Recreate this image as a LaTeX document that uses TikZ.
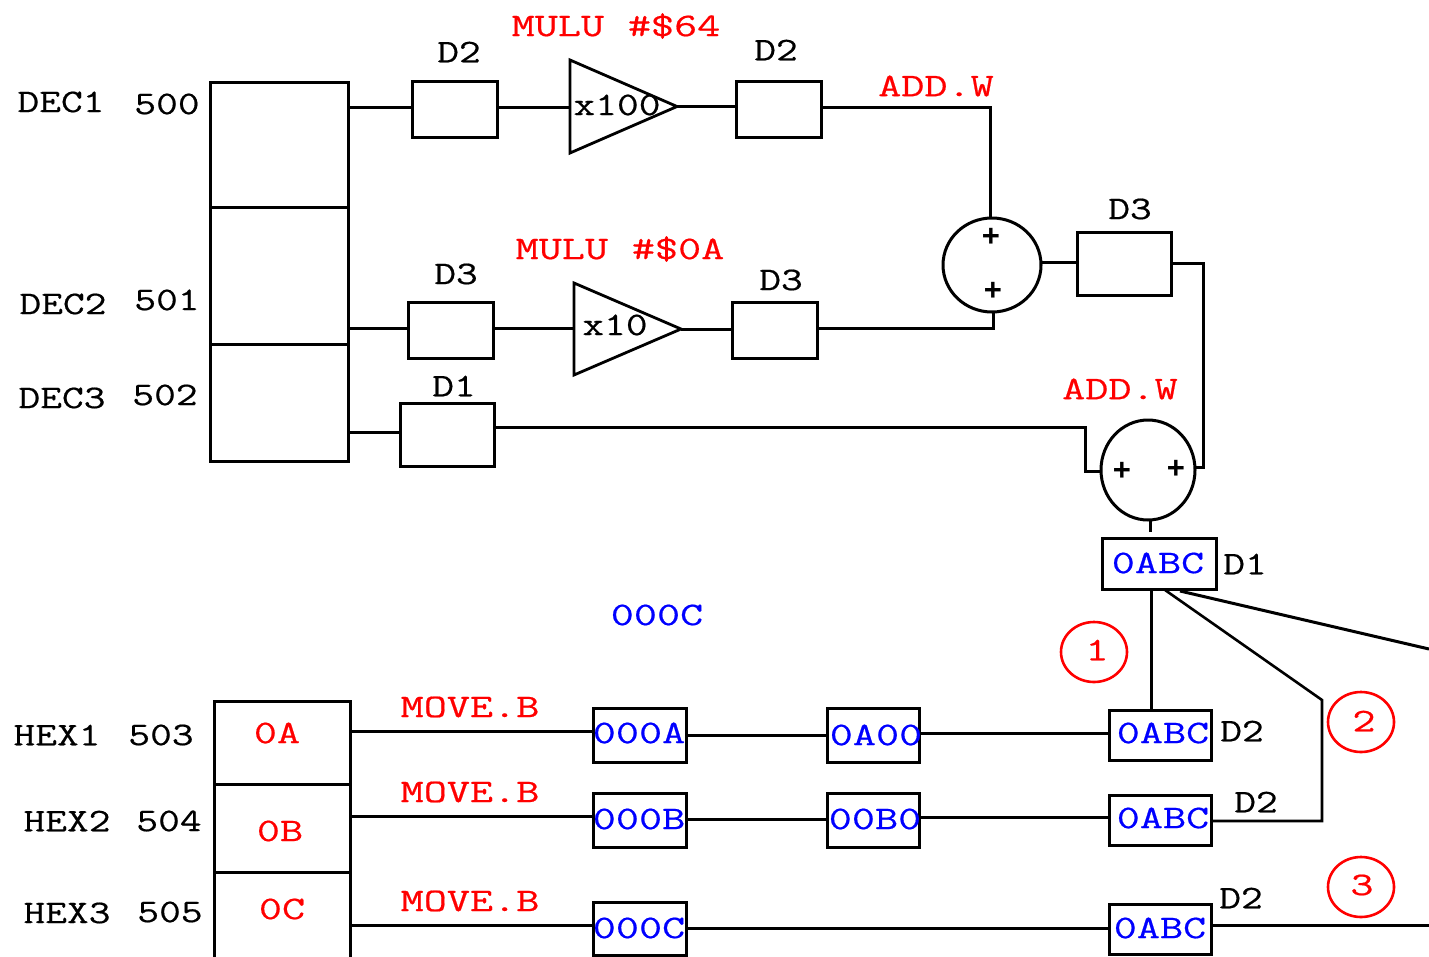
\documentclass[tikz,border=0pt]{standalone}
\usepackage{fontspec}
\usetikzlibrary{shapes.geometric}
\newfontfamily\cfont[FakeStretch=1.36,FakeBold=0.5]{Latin Modern Mono}
\newfontfamily\kfont[FakeStretch=1.28,FakeBold=0.5]{Latin Modern Mono}
\newfontfamily\pfont{Liberation Sans}
\definecolor{redt}{RGB}{255,0,0}
\definecolor{bluet}{RGB}{0,0,255}
\tikzset{
  wire/.style={line width=3pt,black,line join=miter},
  thin wire/.style={line width=2.6pt,black},
  boxn/.style={draw=black,line width=3pt,inner sep=0pt,outer sep=0pt,fill=white},
  sumn/.style={draw=black,ellipse,line width=3pt,inner sep=0pt,outer sep=0pt},
  redc/.style={draw=redt,ellipse,line width=2.6pt,inner sep=0pt,outer sep=0pt},
  amp/.style={draw=black,isosceles triangle,isosceles triangle stretches,shape border rotate=0,line width=2.8pt,inner sep=0pt,outer sep=0pt,anchor=lower side},
  lab/.style={font=\kfont\fontsize{33}{33}\selectfont,inner sep=0pt,text=black},
  redl/.style={font=\cfont\fontsize{33}{33}\selectfont,inner sep=0pt,text=redt},
  blul/.style={font=\cfont\fontsize{33}{33}\selectfont,inner sep=0pt,text=bluet},
  plusn/.style={font=\pfont\bfseries\fontsize{31}{31}\selectfont,inner sep=0pt,text=black}
}
\newcommand{\bx}[5]{\node[boxn,minimum width={#4-#2},minimum height={#5-#3}] (#1) at ({(#2+#4)/2},{(#3+#5)/2}) {};}
\begin{document}
\begin{tikzpicture}[x=1pt,y=-1pt]
\useasboundingbox (0,0) rectangle (1429,956);
\clip (0,0) rectangle (1429,956);
% top memory
\bx{mema}{210}{82}{348}{207}
\bx{memb}{210}{207}{348}{344}
\bx{memc}{210}{344}{348}{461}
% registers
\bx{rga}{412}{81}{497}{137}
\bx{rgb}{736}{81}{821}{137}
\bx{rgc}{408}{302}{493}{358}
\bx{rgd}{732}{302}{817}{358}
\bx{rge}{400}{403}{494}{466}
\bx{rgf}{1077}{232}{1171}{295}
\bx{res}{1102}{538}{1216}{589}
% amplifiers
\node[amp,minimum width=93,minimum height=107] (ampa) at (570,106.5) {};
\node[amp,minimum width=92,minimum height=107] (ampb) at (574,329) {};
% adders
\node[sumn,minimum width=98,minimum height=94] (suma) at (992,265) {};
\node[sumn,minimum width=94,minimum height=100] (sumb) at (1148,470) {};
% bottom memory
\bx{hexa}{214}{701}{350}{784}
\bx{hexb}{214}{784}{350}{872}
\bx{hexc}{214}{872}{350}{975}
% bottom registers
\bx{ra}{593}{708}{686}{762}
\bx{rb}{827}{708}{919}{762}
\bx{rc}{1109}{710}{1211}{760}
\bx{sa}{593}{793}{686}{847}
\bx{sb}{827}{793}{919}{847}
\bx{sc}{1109}{795}{1211}{845}
\bx{ta}{593}{902}{686}{955}
\bx{tc}{1109}{904}{1211}{954}
% pins
\coordinate (pa) at (0,107);
\coordinate (pb) at (990,107);
\coordinate (pc) at (0,328);
\coordinate (pd) at (993,328);
\coordinate (pe) at (0,262);
\coordinate (pf) at (1203,263);
\coordinate (pg) at (1203,467);
\coordinate (ph) at (0,432);
\coordinate (pi) at (1085,427);
\coordinate (pj) at (1085,471);
\coordinate (pk) at (1150,532);
\coordinate (pl) at (1322,700);
\coordinate (pm) at (1322,821);
\coordinate (pn) at (1165,590);
\coordinate (po) at (1180,591);
\coordinate (pp) at (1429,649);
\coordinate (pq) at (1429,925);
\coordinate (pr) at (1151,589);
% top wires
\draw[wire] (mema.east |- pa) -- (rga.west |- pa);
\draw[wire] (rga.east |- pa) -- (ampa.lower side |- pa);
\draw[wire] (ampa.apex) -- (rgb.west |- ampa.apex);
\draw[wire] (rgb.east |- pa) -- (pb) -- (suma.north -| pb);
\draw[wire] (memb.east |- pc) -- (rgc.west |- pc);
\draw[wire] (rgc.east |- pc) -- (ampb.lower side |- pc);
\draw[wire] (ampb.apex) -- (rgd.west |- ampb.apex);
\draw[wire] (rgd.east |- pc) -- (pd) -- (suma.south -| pd);
\draw[wire] (suma.east |- pe) -- (rgf.west |- pe);
\draw[wire] (rgf.east |- pf) -- (pf) -- (pg) -- (sumb.east |- pg);
\draw[wire] (memc.east |- ph) -- (rge.west |- ph);
\draw[wire] (rge.east |- pi) -- (pi) -- (pj) -- (sumb.west |- pj);
\draw[wire] (sumb.south -| pk) -- (pk);
\draw[wire] (pr) -- (rc.north -| pr);
\draw[thin wire] (pn) -- (pl) -- (pm) -- (sc.east |- pm);
\draw[wire] (po) -- (pp);
% bottom wires
\draw[wire] (hexa.east |- 0,731) -- (ra.west |- 0,731);
\draw[wire] (ra.east |- 0,735) -- (rb.west |- 0,735);
\draw[wire] (rb.east |- 0,733) -- (rc.west |- 0,733);
\draw[wire] (hexb.east |- 0,816) -- (sa.west |- 0,816);
\draw[wire] (sa.east |- 0,819) -- (sb.west |- 0,819);
\draw[wire] (sb.east |- 0,817) -- (sc.west |- 0,817);
\draw[wire] (hexc.east |- 0,925) -- (ta.west |- 0,925);
\draw[wire] (ta.east |- 0,928) -- (tc.west |- 0,928);
\draw[wire] (tc.east |- pq) -- (pq);
% red circles
\node[redc,minimum width=66,minimum height=60] (ca) at (1094,652) {};
\node[redc,minimum width=66,minimum height=60] (cb) at (1361,722) {};
\node[redc,minimum width=66,minimum height=60] (cc) at (1361,887) {};
% labels
\node[lab] (l1) at (61,102) {DEC1};
\node[lab] (l2) at (167,104) {500};
\node[lab] (l3) at (63,304) {DEC2};
\node[lab] (l4) at (167,300) {501};
\node[lab] (l5) at (62,398) {DEC3};
\node[lab] (l6) at (165,395) {502};
\node[lab] (l7) at (459,52) {D2};
\node[lab] (l8) at (776,50) {D2};
\node[lab] (l9) at (1130,209) {D3};
\node[lab] (l10) at (456,274) {D3};
\node[lab] (l11) at (781,280) {D3};
\node[lab] (l12) at (454,386) {D1};
\node[redl] (l13) at (616,26) {MULU\hspace{0.72em}\#\$64};
\node[redl] (l14) at (620,249) {MULU\hspace{0.72em}\#\$0A};
\node[redl] (l15) at (936,86) {ADD.W};
\node[redl] (l16) at (1120,389) {ADD.W};
\node[lab] (l17) at (617,105) {x100};
\node[lab] (l18) at (615,325) {x10};
\node[plusn] (p1) at (991,237) {+};
\node[plusn] (p2) at (993,291) {+};
\node[plusn] (p3) at (1122,471) {+};
\node[plusn] (p4) at (1176,469) {+};
\node[blul] (l19) at (1158,563) {0ABC};
\node[lab] (l20) at (1245,564) {D1};
\node[blul] (l21) at (657,615) {000C};
\node[redl] (l22) at (470,707) {MOVE.B};
\node[redl] (l23) at (470,792) {MOVE.B};
\node[redl] (l24) at (470,901) {MOVE.B};
\node[redl] (l25) at (277,733) {0A};
\node[redl] (l26) at (280,831) {0B};
\node[redl] (l27) at (282,909) {0C};
\node[blul] (l28) at (639,733) {000A};
\node[blul] (l29) at (876,735) {0A00};
\node[blul] (l30) at (1163,733) {0ABC};
\node[lab] (l31) at (1242,731) {D2};
\node[blul] (l32) at (639,819) {000B};
\node[blul] (l33) at (875,819) {00B0};
\node[blul] (l34) at (1163,818) {0ABC};
\node[lab] (l35) at (1256,802) {D2};
\node[blul] (l36) at (639,928) {000C};
\node[blul] (l37) at (1160,928) {0ABC};
\node[lab] (l38) at (1241,898) {D2};
\node[lab] (l39) at (57,735) {HEX1};
\node[lab] (l40) at (161,735) {503};
\node[lab] (l41) at (67,821) {HEX2};
\node[lab] (l42) at (169,821) {504};
\node[lab] (l43) at (67,913) {HEX3};
\node[lab] (l44) at (170,912) {505};
\node[redl] (l45) at (1097,650) {1};
\node[redl] (l46) at (1364,721) {2};
\node[redl] (l47) at (1362,885) {3};
\end{tikzpicture}
\end{document}
